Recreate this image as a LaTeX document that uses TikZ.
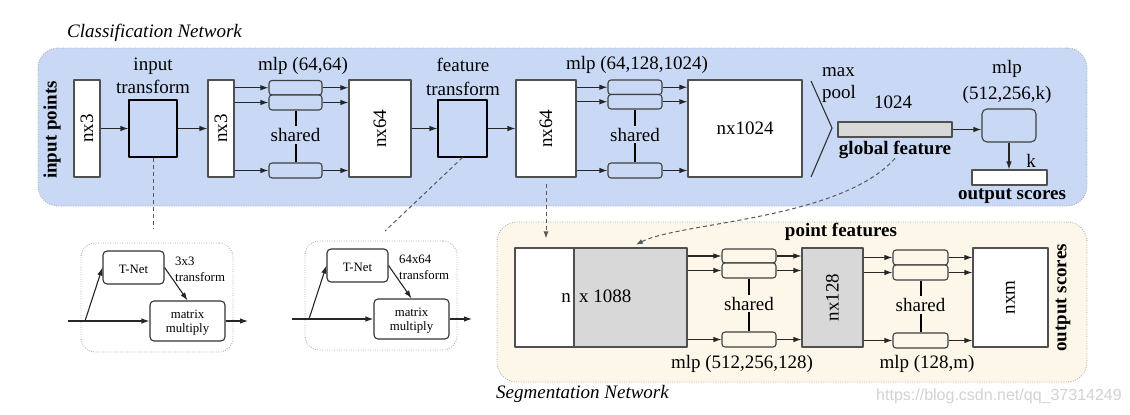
\documentclass[tikz,border=0pt]{standalone}
\usepackage{fontspec}
\setmainfont{Liberation Serif}
\setsansfont{Liberation Sans}
\usetikzlibrary{arrows.meta,fit}
\definecolor{cblue}{HTML}{C9D9F5}
\definecolor{segyel}{HTML}{FDF7EA}
\definecolor{gfill}{HTML}{D8D8D8}
\definecolor{bstroke}{HTML}{505050}
\tikzset{
  bg/.style={inner sep=0pt, draw=gray!70, dash pattern=on 0.8pt off 1.6pt, line width=0.9pt, rounded corners=20pt},
  vol/.style={inner sep=0pt, draw=bstroke, line width=1.1pt, fill=white},
  gvol/.style={vol, fill=gfill},
  mlpbox/.style={inner sep=0pt, draw=black!75, line width=1.1pt, rounded corners=3pt},
  trbox/.style={inner sep=0pt, draw=black, line width=1.1pt, fill=cblue},
  tbox/.style={inner sep=0pt, draw=black!80, line width=1.1pt, fill=white, rounded corners=4pt},
  arr/.style={-{Latex[length=8pt,width=5.5pt]}, line width=1.1pt, black!85},
  shr/.style={line width=2pt},
  dsh/.style={dash pattern=on 4pt off 3pt, line width=1pt, black!65},
  small/.style={font=\fontsize{12.8}{15}\selectfont},
  bl/.style={anchor=base, inner sep=0pt},
}
\newcommand\mlpset[9]{%
  \node[mlpbox, fill=#9, fit={(#2,#4)(#3,#5)}] (#1a) {};
  \node[mlpbox, fill=#9, fit={(#2,#5)(#3,#6)}] (#1b) {};
  \node[mlpbox, fill=#9, fit={(#2,#7)(#3,#8)}] (#1c) {};
  \node[inner sep=2pt] (#1s) at ({(#2+#3)/2},{(#6+#7)/2-1.5}) {shared};
  \draw[shr] (#1b.south) -- (#1s.north);
  \draw[shr] (#1s.south) -- (#1c.north);
}
\newcommand\tnetset[3]{%
  \begin{scope}[shift={#2}]
    \node[bg, fit={(81,243)(233,352)}, rounded corners=14pt] (#1box) {};
    \node[tbox, fit={(103,251)(164,284)}] (#1t) {};
    \node[small, bl] (#1tl) at (133.5,273) {T-Net};
    \node[tbox, fit={(150,301)(225,341)}] (#1m) {};
    \node[small, bl] (#1ml1) at (187.5,318) {matrix};
    \node[small, bl] (#1ml2) at (187.5,332) {multiply};
    \node[small, anchor=base west, inner sep=0pt] (#1l1) at (175,265) {#3};
    \node[small, anchor=base west, inner sep=0pt] (#1l2) at (175,281) {transform};
    \coordinate (#1in) at (68,321);
    \coordinate (#1br) at (85,321);
    \coordinate (#1out) at (248,321);
    \draw[arr] (#1in) -- (#1m.west);
    \draw[arr] (#1br) -- (#1t.west);
    \draw[arr] (#1t.east) -- (#1m.north);
    \draw[arr] (#1m.east) -- (#1out);
  \end{scope}}
\begin{document}
\begin{tikzpicture}[x=1pt,y=-1pt, font=\fontsize{19}{23}\selectfont, line join=round]
\useasboundingbox (0,0) rectangle (1130,415);

% backgrounds
\node[bg, fill=cblue, fit={(38,48)(1087,206)}] (cls) {};
\node[bg, fill=segyel, fit={(497,222)(1087,382)}] (seg) {};
\node[bl, font=\fontsize{19}{23}\selectfont\itshape, anchor=base west] (clst) at (67,37) {Classification Network};
\node[bl, font=\fontsize{19}{23}\selectfont\itshape, anchor=base west] (segt) at (496,398) {Segmentation Network};

% classification network
\node[font=\fontsize{19}{23}\selectfont\bfseries, rotate=90] (inpts) at (52,130) {input points};
\node[vol, fit={(74,80)(100,177)}] (nx3A) {};
\node[rotate=90] (nx3At) at (nx3A.center) {nx3};
\node[bl] (itl1) at (153,70) {input};
\node[bl] (itl2) at (153,93) {transform};
\node[trbox, fit={(129,100)(177,157)}] (itbox) {};
\node[vol, fit={(208,80)(234,177)}] (nx3B) {};
\node[rotate=90] (nx3Bt) at (nx3B.center) {nx3};
\node[bl] (mlpAl) at (303,70) {mlp (64,64)};
\mlpset{A}{269}{322}{80.5}{95}{110}{163}{178}{cblue}
\node[vol, fit={(349,80)(411,177)}] (nx64A) {};
\node[rotate=90] (nx64At) at (nx64A.center) {nx64};
\node[bl] (ftl1) at (463,71) {feature};
\node[bl] (ftl2) at (463,95) {transform};
\node[trbox, fit={(438,100)(487,157)}] (ftbox) {};
\node[vol, fit={(516,80)(576,177)}] (nx64B) {};
\node[rotate=90] (nx64Bt) at (nx64B.center) {nx64};
\node[bl] (mlpBl) at (637,69) {mlp (64,128,1024)};
\mlpset{B}{608}{662}{80}{94.5}{109}{163}{178}{cblue}
\node[vol, fit={(688,80)(802,177)}] (nx1024) {};
\node (nx1024t) at (nx1024.center) {nx1024};
\coordinate (mpA) at (811,81);
\coordinate (mpB) at (832,128);
\coordinate (mpC) at (811,177);
\draw[line width=1.1pt, black!80] (mpA) -- (mpB) -- (mpC);
\node[bl, anchor=base west] (maxl) at (822,76) {max};
\node[bl, anchor=base west] (pooll) at (822,98) {pool};
\node[bl] (gfnum) at (893,108) {1024};
\node[gvol, fit={(838,122)(952,137)}] (gfbar) {};
\node[bl, font=\fontsize{19}{23}\selectfont\bfseries] (gfl) at (895,154) {global feature};
\node[bl] (mlpCl1) at (1007,73.5) {mlp};
\node[bl] (mlpCl2) at (1007,99) {(512,256,k)};
\node[mlpbox, fill=cblue, rounded corners=5pt, fit={(982,109)(1036,142)}] (mlpC) {};
\node[vol, fit={(972,170)(1047,185)}] (outbar) {};
\node[bl] (kl) at (1031,167) {k};
\node[bl, font=\fontsize{19}{23}\selectfont\bfseries] (osl) at (1012,199.5) {output scores};

% classification arrows
\draw[arr] (nx3A.east |- itbox.west) -- (itbox.west);
\draw[arr] (itbox.east) -- (nx3B.west |- itbox.east);
\foreach \b in {a,b,c} {
  \draw[arr] (nx3B.east |- A\b.west) -- (A\b.west);
  \draw[arr] (A\b.east) -- (nx64A.west |- A\b.east);
  \draw[arr] (nx64B.east |- B\b.west) -- (B\b.west);
  \draw[arr] (B\b.east) -- (nx1024.west |- B\b.east);
}
\draw[arr] (nx64A.east |- ftbox.west) -- (ftbox.west);
\draw[arr] (ftbox.east) -- (nx64B.west |- ftbox.east);
\draw[arr] (gfbar.east) -- (mlpC.west |- gfbar.east);
\draw[arr] (mlpC.south) -- (mlpC.south |- outbar.north);

% T-Net details
\tnetset{P}{(0,0)}{3x3}
\tnetset{Q}{(224,-2)}{64x64}
\coordinate (itend) at (153,228);
\coordinate (ftend) at (385,231);
\draw[dsh] (itbox.south) -- (itend);
\draw[dsh] (ftbox.south) -- (ftend);

% segmentation network
\node[vol, fit={(515,248)(574,347)}] (segA) {};
\node[gvol, fit={(574,248)(687,347)}] (segB) {};
\node[bl, anchor=base east] (segAt) at (571,302) {n};
\node[bl, anchor=base west] (segBt) at (579,302) {x 1088};
\node[bl, font=\fontsize{19}{23}\selectfont\bfseries] (pfl) at (841,236) {point features};
\mlpset{C}{722}{776}{249}{263}{278}{332}{347}{segyel}
\node[gvol, fit={(802,248)(863,347)}] (nx128) {};
\node[rotate=90] (nx128t) at (nx128.center) {nx128};
\node[bl] (mlpDl) at (742,368) {mlp (512,256,128)};
\mlpset{D}{893}{948}{250}{265}{280}{333}{348}{segyel}
\node[vol, fit={(973,248)(1048,347)}] (nxm) {};
\node[rotate=90] (nxmt) at (nxm.center) {nxm};
\node[bl] (mlpEl) at (927,368) {mlp (128,m)};
\node[font=\fontsize{19}{23}\selectfont\bfseries, rotate=90] (osv) at (1063,298) {output scores};
\foreach \b in {a,b,c} {
  \draw[arr] (segB.east |- C\b.west) -- (C\b.west);
  \draw[arr] (C\b.east) -- (nx128.west |- C\b.east);
  \draw[arr] (nx128.east |- D\b.west) -- (D\b.west);
  \draw[arr] (D\b.east) -- (nxm.west |- D\b.east);
}

% links between networks
\draw[dsh, -{Latex[length=7pt,width=5pt]}, shorten <=6pt, shorten >=9pt] (nx64B.south) -- (nx64B.south |- segA.north);
\draw[dsh, -{Latex[length=7pt,width=5pt]}, shorten >=6pt] (gfl.south) .. controls (840,220) and (680,222) .. (segB.north);

% watermark
\node[font=\sffamily\fontsize{16}{18}\selectfont, text=gray!35, anchor=base, inner sep=0pt] (wm) at (999,400) {https://blog.csdn.net/qq\_37314249};
\end{tikzpicture}
\end{document}
